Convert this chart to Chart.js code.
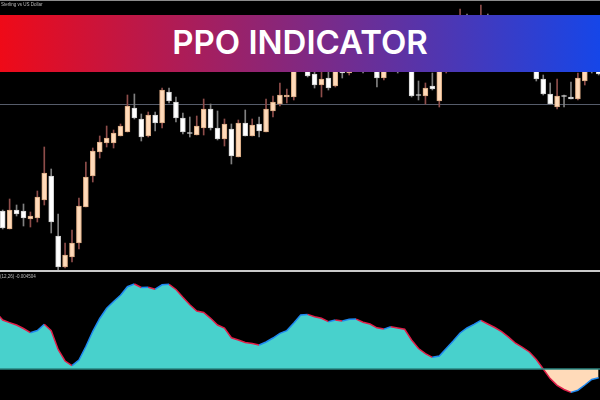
<!DOCTYPE html>
<html>
<head>
<meta charset="utf-8">
<script src="https://cdn.jsdelivr.net/npm/chart.js@4.4.0/dist/chart.umd.min.js"></script>
<style>
  html, body { margin: 0; padding: 0; background: #000; width: 600px; height: 400px; overflow: hidden; }
  #wrap { position: relative; width: 600px; height: 400px; background: #000; }
  #price { position: absolute; left: 0; top: 0; }
  #ppo { position: absolute; left: 0; top: 272px; }
  .frame { position: absolute; left: 0; top: 0; width: 600px; height: 1px; background: #8c8c8c; }
  .sep { position: absolute; left: 0; top: 270px; width: 600px; height: 2px; background: #cacaca; }
  .sym { position: absolute; left: 1px; top: 2px; font: 4.5px "Liberation Sans", Arial, sans-serif; color: #bdbdbd; white-space: nowrap; }
  .ppolbl { position: absolute; left: 0; top: 274px; font: 4.5px "Liberation Sans", Arial, sans-serif; color: #bdbdbd; white-space: nowrap; }
  .banner {
    position: absolute; left: 0; top: 15px; width: 600px; height: 57px;
    background: linear-gradient(90deg, #ef0a18, #1646e8);
    display: flex; align-items: center; justify-content: center;
    color: #fff; font: 600 33px Inter, "Open Sans", sans-serif; padding-bottom: 4px; box-sizing: border-box;
  }
</style>
</head>
<body>
<div id="wrap">
  <canvas id="price" width="600" height="270"></canvas>
  <canvas id="ppo" width="600" height="128"></canvas>
  <div class="frame"></div>
  <div class="sep"></div>
  <div class="sym">Sterling vs US Dollar</div>
  <div class="ppolbl">(12,26) -0.004504</div>
  <div class="banner">PPO INDICATOR</div>
</div>
<script>
// candles, price in chart points
const candleOpen = [59, 41, 60, 59, 51, 52, 70, 94, 34, 3, 13, 27, 63, 94, 118, 127, 127, 134, 138, 162,
  151, 134, 155, 147, 178, 168, 152, 137.5, 135, 142, 161, 142, 131, 141, 113, 147, 134, 146, 138, 159,
  166, 173, 173, 204, 212, 196, 185, 192, 184, 208, 197, 210, 222, 212, 220, 192, 208, 220, 212, 210,
  175.5, 174, 184, 169, 210, 225, 235, 248, 240, 245, 252, 242, 232, 225, 232, 220, 212, 208, 191, 176,
  163, 174.5, 173, 171, 189, 204, 210];
const candleClose = [42, 60, 56, 52, 54, 73, 97, 48, 3, 15, 27, 64, 93, 119, 128, 132, 137, 144, 164, 152,
  133, 155, 147, 180, 169, 152, 138, 136.5, 144, 161, 142, 131, 146, 114, 147, 134, 145, 139, 161, 168,
  175, 175, 204, 215, 194, 185, 191, 182, 208, 197, 210, 222, 212, 225, 192, 208, 220, 210, 204, 174,
  174.5, 182, 181, 210, 225, 235, 248, 240, 248, 252, 242, 232, 225, 232, 220, 212, 204, 191, 176, 166,
  174, 173.5, 171, 192, 204, 200, 196];
const candleHigh = [60, 71, 65, 66, 58, 79, 123, 101, 56, 27, 40, 72, 108, 122, 134, 144, 140, 146, 175, 176,
  156, 158, 158, 182, 182, 173, 157, 153, 154, 171, 166, 159, 151, 146, 150, 160, 151, 153, 171, 174,
  187, 181, 212, 222, 218, 204, 202, 200, 215, 215, 220, 230, 228, 232, 225, 215, 228, 225, 218, 215,
  189, 187, 197, 218, 232, 242, 261, 256, 253, 265, 256, 248, 240, 238, 236, 226, 218, 214, 195, 187,
  191, 175, 188, 197, 210, 208, 215];
const candleLow = [41, 41, 54, 44, 43, 48, 65, 37, 0, 2, 8, 21, 63, 88, 112, 123, 122, 134, 138, 151,
  129, 133, 139, 142, 167, 148, 136, 133, 135, 135, 140, 130, 124, 106, 113, 134, 134, 133, 138, 153,
  164, 167, 170, 200, 193, 182, 173, 180, 183, 192, 195, 200, 197, 204, 183, 190, 202, 197, 200, 173,
  170, 166, 180, 163, 197, 215, 230, 232, 235, 238, 237, 226, 220, 218, 214, 206, 200, 189, 175, 166,
  161, 163, 171, 170, 185, 197, 195];
const priceLevel = 165.5;

// PPO line, same candles; ppoPrev is the bar just left of the window
const ppoPrev = 57;
const ppoValues = [49, 46.4, 44, 40.5, 36.3, 38.5, 44.7, 38.3, 19.5, 8, 3.3, 9, 22.5, 37.7, 50.5, 60.7, 67.5,
  73.8, 82.3, 85, 81.5, 81.7, 79.8, 84.2, 84.7, 79.5, 71.7, 64.3, 58, 56.5, 50.7, 44, 41, 31.2, 29, 26.6,
  25.5, 24, 27, 31, 35.7, 38.4, 46, 54.1, 54.6, 52.2, 50.7, 47.3, 49, 48, 49.7, 49.9, 46.8, 45, 41.2, 39.9,
  42.2, 41, 39.7, 29, 20.5, 15.4, 11.7, 13, 20.4, 28, 36, 41, 44.7, 48.6, 45, 41.5, 37.4, 31.8, 25.8, 21.7,
  17, 9.4, 0, -9.6, -16.4, -20.5, -23.4, -21.2, -16, -10.5, -8.8];

const X_MIN = -0.39;
const X_MAX = 86.19;

function isBull(i) {
  return candleClose[i] >= candleOpen[i];
}

function drawPriceChart() {
  const idx = candleOpen.map((_, i) => i);
  const bodyFill = idx.map(i => isBull(i) ? "#ffdab9" : "#ffffff");
  const bodyEdge = idx.map(i => isBull(i) ? "#d8a882" : "#cfcfcf");
  const wickColor = idx.map(i => isBull(i) ? "#8e4d4a" : "#808080");

  new Chart(document.getElementById("price"), {
    type: "bar",
    data: {
      datasets: [
        {
          label: "body",
          data: idx.map(i => ({ x: i, y: [candleOpen[i], candleClose[i]] })),
          backgroundColor: bodyFill,
          borderColor: bodyEdge,
          borderWidth: 1,
          borderSkipped: false,
          barThickness: 5,
          grouped: false,
        },
        {
          label: "wick",
          data: idx.map(i => ({ x: i, y: [candleLow[i], candleHigh[i]] })),
          backgroundColor: wickColor,
          borderWidth: 0,
          barThickness: 1,
          grouped: false,
        },
        {
          type: "line",
          label: "level",
          data: [{ x: X_MIN - 1, y: priceLevel }, { x: X_MAX + 1, y: priceLevel }],
          borderColor: "#565c6a",
          borderWidth: 1,
          pointRadius: 0,
        },
      ],
    },
    options: {
      responsive: false,
      animation: false,
      layout: { padding: 0 },
      plugins: { legend: { display: false }, tooltip: { enabled: false } },
      scales: {
        x: { type: "linear", min: X_MIN, max: X_MAX, offset: false, display: false },
        y: { min: 0, max: 270, display: false },
      },
    },
  });
}

function drawPpoChart() {
  const points = [{ x: -1, y: ppoPrev }].concat(ppoValues.map((v, i) => ({ x: i, y: v })));
  new Chart(document.getElementById("ppo"), {
    type: "line",
    data: {
      datasets: [
        {
          label: "zero",
          data: [{ x: X_MIN - 1, y: 0 }, { x: X_MAX + 1, y: 0 }],
          borderColor: "#2a8682",
          borderWidth: 1.5,
          pointRadius: 0,
        },
        {
          label: "PPO line",
          data: points,
          fill: false,
          borderWidth: 1.5,
          pointRadius: 0,
          tension: 0,
          segment: {
            borderColor: ctx => ctx.p1.parsed.y >= ctx.p0.parsed.y ? "#1e88f0" : "#e0204a",
          },
        },
        {
          label: "PPO area",
          data: points,
          fill: { target: "origin", above: "#48d1cc", below: "#ffdab9" },
          borderWidth: 0,
          borderColor: "rgba(0,0,0,0)",
          pointRadius: 0,
          tension: 0,
        },
      ],
    },
    options: {
      responsive: false,
      animation: false,
      layout: { padding: 0 },
      plugins: { legend: { display: false }, tooltip: { enabled: false } },
      scales: {
        x: { type: "linear", min: X_MIN, max: X_MAX, display: false },
        y: { min: -31, max: 97, display: false },
      },
    },
  });
}

drawPriceChart();
drawPpoChart();
</script>
</body>
</html>
